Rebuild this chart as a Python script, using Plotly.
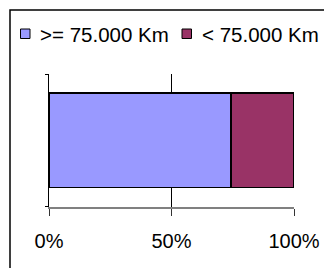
import plotly.graph_objects as go

categories = ["Total"]
series_names = [">= 75.000 Km", "< 75.000 Km"]
series_values = [[74.3], [25.7]]
series_colors = ["#9999FF", "#993366"]
tick_values = [0, 50, 100]
tick_labels = ["0%", "50%", "100%"]

W, H = 324, 268
FONT = "Liberation Sans, Arial, sans-serif"

def px(x):
    return x / W

def py(y):
    return 1 - y / H

fig = go.Figure()
for name, vals, col in zip(series_names, series_values, series_colors):
    fig.add_trace(go.Bar(
        y=categories, x=vals, name=name, orientation="h",
        marker=dict(color=col, line=dict(color="black", width=1.5)),
        width=0.713, showlegend=False,
    ))

shapes = [
    dict(type="rect", xref="paper", yref="paper",
         x0=px(10), y0=py(10), x1=1.2, y1=-0.2,
         line=dict(color="black", width=1.5), fillcolor="rgba(0,0,0,0)", layer="above"),
]
annotations = []
legend_x = [20.5, 182]
for i, (name, col) in enumerate(zip(series_names, series_colors)):
    x0 = legend_x[i]
    shapes.append(dict(type="rect", xref="paper", yref="paper",
                       x0=px(x0), x1=px(x0 + 9.5), y0=py(38.5), y1=py(29),
                       fillcolor=col, line=dict(color="black", width=1)))
    annotations.append(dict(xref="paper", yref="paper", x=px(x0 + 17.5), y=py(34),
                            xanchor="left", yanchor="middle", text=name, showarrow=False,
                            font=dict(family=FONT, size=20.5, color="black")))

fig.update_layout(
    template="none",
    barmode="stack",
    width=W, height=H,
    margin=dict(l=0, r=0, t=0, b=0, pad=0, autoexpand=False),
    paper_bgcolor="white", plot_bgcolor="white",
    showlegend=False,
    shapes=shapes,
    annotations=annotations,
    xaxis=dict(
        domain=[px(49), px(294)], range=[0, 100],
        automargin=False,
        tickvals=tick_values, ticktext=tick_labels,
        showgrid=True, gridcolor="black", gridwidth=1,
        zeroline=False,
        showline=True, linecolor="#808080", linewidth=2,
        ticks="outside", ticklen=7, tickcolor="#333333", tickwidth=1,
        ticklabelstandoff=8,
        tickfont=dict(family=FONT, size=20, color="black"),
        fixedrange=True,
    ),
    yaxis=dict(
        domain=[py(206.5), py(74)], range=[-0.5, 0.5],
        automargin=False,
        type="category",
        showgrid=False, zeroline=False,
        showline=True, linecolor="black", linewidth=1,
        tickvals=[-0.5, 0.5], ticktext=["", ""],
        ticks="outside", ticklen=3, tickcolor="black", tickwidth=1,
        showticklabels=False,
        fixedrange=True,
    ),
)

fig.write_html("out.html", config={"displayModeBar": False},
               post_script="document.body.style.margin='0';document.body.style.overflow='hidden';")
